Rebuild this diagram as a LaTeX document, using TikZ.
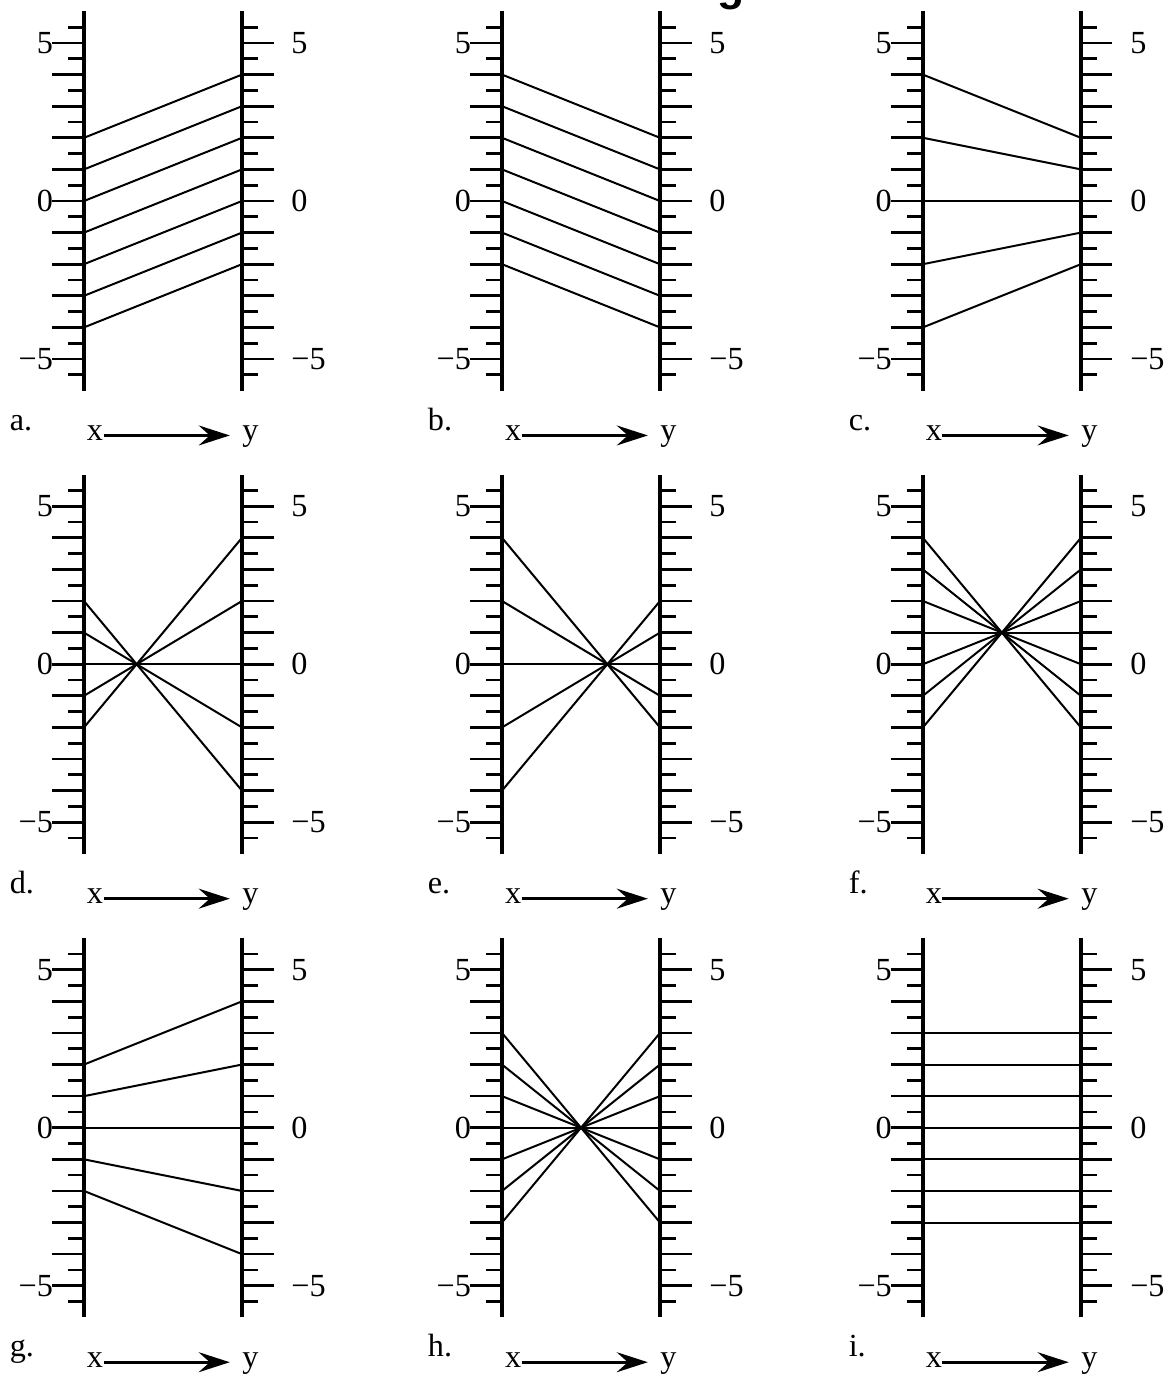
\documentclass[tikz,border=0pt]{standalone}
\usepackage{fontspec}
\setmainfont{Liberation Serif}
\newfontfamily\headfont{Liberation Sans}
\usetikzlibrary{arrows.meta}

% one panel: x shift, y shift, letter, left/right pairs
\newcommand{\mappanel}[4]{%
\begin{scope}[shift={(#1,#2)}]
\draw[axisline] (0,-6) -- (0,6);
\draw[axisline] (5,-6) -- (5,6);
\foreach \t in {-5,...,5} {
  \draw[tickline] (-1,\t) -- (0,\t);
  \draw[tickline] (5,\t) -- (6,\t);
  \coordinate (xl\t) at (0,\t);
  \coordinate (yr\t) at (5,\t);
}
\foreach \t in {-5.5,-4.5,...,5.5} {
  \draw[tickline] (-0.5,\t) -- (0,\t);
  \draw[tickline] (5,\t) -- (5.5,\t);
}
\foreach \t/\s in {5/5,0/0,-5/{−5}} {
  \node[num,anchor=east] (nx\t) at (-0.97,\t) {\s};
  \node[num,anchor=west] (ny\t) at (6.55,\t) {\s};
}
\foreach \a/\b in {#4}
  \draw[mapline] (xl\a) -- (yr\b);
\node[num,anchor=base west] (tag) at (-2.36,-7.25) {#3.};
\node[var,inner xsep=0pt] (vx) at (0.35,-7.42) {x};
\node[var,inner xsep=5.5pt] (vy) at (5.27,-7.42) {y};
\draw[maparrow] (vx) -- (vy);
\end{scope}}

\begin{document}
\begin{tikzpicture}[x=0.5cm,y=0.5cm]
\tikzset{axisline/.style={line width=1.5pt},
  tickline/.style={line width=1.2pt},
  mapline/.style={line width=0.9pt},
  num/.style={inner sep=0pt,font=\fontsize{14.5}{17}\selectfont},
  var/.style={inner ysep=1pt,text height=1ex,text depth=0pt,font=\fontsize{14.5}{17}\selectfont},
  maparrow/.style={line width=1.2pt,-{Stealth[length=14pt,width=9pt,inset=5pt]}}}

\useasboundingbox (-2.658,-37.25) rectangle (34.18,6.361);

\node[anchor=base,font=\headfont\bfseries\fontsize{20}{24}\selectfont] (title) at (20.47,6.33) {g};

\mappanel{0}{0}{a}{2/4,1/3,0/2,-1/1,-2/0,-3/-1,-4/-2}
\mappanel{13.23}{0}{b}{4/2,3/1,2/0,1/-1,0/-2,-1/-3,-2/-4}
\mappanel{26.55}{0}{c}{4/2,2/1,0/0,-2/-1,-4/-2}

\mappanel{0}{-14.66}{d}{2/-4,1/-2,0/0,-1/2,-2/4}
\mappanel{13.23}{-14.66}{e}{4/-2,2/-1,0/0,-2/1,-4/2}
\mappanel{26.55}{-14.66}{f}{4/-2,3/-1,2/0,1/1,0/2,-1/3,-2/4}

\mappanel{0}{-29.33}{g}{2/4,1/2,0/0,-1/-2,-2/-4}
\mappanel{13.23}{-29.33}{h}{3/-3,2/-2,1/-1,0/0,-1/1,-2/2,-3/3}
\mappanel{26.55}{-29.33}{i}{3/3,2/2,1/1,0/0,-1/-1,-2/-2,-3/-3}
\end{tikzpicture}
\end{document}
